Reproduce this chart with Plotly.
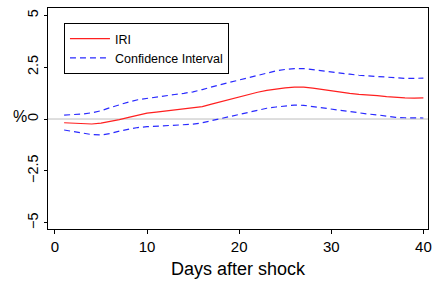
import plotly.graph_objects as go

days = list(range(1, 41))
iri = [-0.18, -0.20, -0.22, -0.24, -0.20, -0.12, -0.03, 0.08, 0.18, 0.28,
       0.33, 0.38, 0.43, 0.48, 0.53, 0.60, 0.72, 0.84, 0.96, 1.07,
       1.18, 1.29, 1.38, 1.45, 1.50, 1.54, 1.54, 1.49, 1.42, 1.36,
       1.30, 1.24, 1.19, 1.17, 1.13, 1.08, 1.04, 1.02, 1.01, 1.02]
ci_upper = [0.19, 0.20, 0.24, 0.30, 0.40, 0.55, 0.70, 0.82, 0.93, 1.00,
            1.06, 1.12, 1.18, 1.24, 1.31, 1.42, 1.55, 1.66, 1.77, 1.88,
            2.00, 2.12, 2.23, 2.32, 2.39, 2.43, 2.43, 2.37, 2.31, 2.27,
            2.22, 2.16, 2.11, 2.08, 2.06, 2.02, 1.97, 1.96, 1.96, 1.97]
ci_lower = [-0.53, -0.60, -0.68, -0.75, -0.77, -0.70, -0.58, -0.48, -0.41, -0.37,
            -0.34, -0.32, -0.30, -0.28, -0.25, -0.18, -0.08, 0.02, 0.10, 0.20,
            0.30, 0.42, 0.52, 0.58, 0.63, 0.67, 0.66, 0.60, 0.53, 0.47,
            0.41, 0.33, 0.27, 0.24, 0.20, 0.14, 0.08, 0.06, 0.05, 0.05]

x_ticks = [0, 10, 20, 30, 40]
y_ticks = [-5, -2.5, 0, 2.5, 5]
y_tick_labels = ["\u22125", "\u22122.5", "0", "2.5", "5"]

FONT = "Liberation Sans, Arial, sans-serif"

fig = go.Figure()
fig.add_trace(go.Scatter(x=days, y=iri, mode="lines", name="IRI",
                         line=dict(color="#ff2020", width=1.2)))
fig.add_trace(go.Scatter(x=days, y=ci_upper, mode="lines", name="Confidence Interval",
                         line=dict(color="#2a2aff", width=1.2, dash="6px,4px")))
fig.add_trace(go.Scatter(x=days, y=ci_lower, mode="lines", name="Confidence Interval",
                         showlegend=False,
                         line=dict(color="#2a2aff", width=1.2, dash="6px,4px")))

fig.add_hline(y=0, line=dict(color="#bdbdbd", width=1), layer="below")

fig.update_layout(
    width=436, height=282,
    margin=dict(l=48, r=4, t=8, b=53),
    paper_bgcolor="white", plot_bgcolor="white",
    font=dict(family=FONT, color="black", size=15),
    showlegend=True,
    legend=dict(x=0.042, y=0.932, xanchor="left", yanchor="top",
                bordercolor="black", borderwidth=1, bgcolor="white",
                font=dict(size=12.5, family=FONT), tracegroupgap=0,
                itemwidth=40),
    xaxis=dict(range=[-0.75, 40.5], tickvals=x_ticks, ticks="outside", ticklen=4,
               tickcolor="black", showline=True, linecolor="black", linewidth=1.2,
               mirror=True, showgrid=False, zeroline=False,
               tickfont=dict(size=15, family=FONT),
               title=dict(text="Days after shock", font=dict(size=18, family=FONT), standoff=8)),
    yaxis=dict(range=[-5.3, 5.35], tickvals=y_ticks, ticktext=y_tick_labels,
               ticks="outside", ticklen=3, tickcolor="black", tickangle=-90,
               showline=True, linecolor="black", linewidth=1.2, mirror=True,
               showgrid=False, zeroline=False,
               tickfont=dict(size=14.5, family=FONT)),
)

fig.add_annotation(text="%", xref="paper", yref="y", x=-0.073, y=0.1,
                   showarrow=False, font=dict(size=16, family=FONT),
                   xanchor="center", yanchor="middle")

fig.write_html("out.html", config={"displayModeBar": False},
               post_script="document.body.style.margin='0';document.body.style.overflow='hidden';")
